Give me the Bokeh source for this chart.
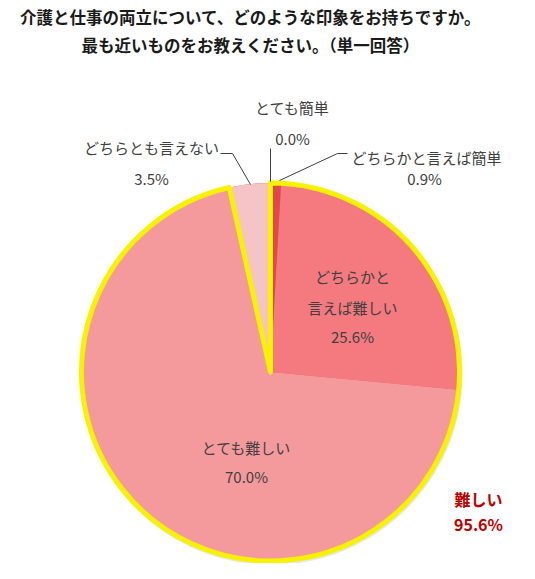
import numpy as np
from bokeh.plotting import figure
from bokeh.models import Range1d, ColumnDataSource
from bokeh.core.properties import value
from bokeh.embed import file_html
from bokeh.resources import INLINE

# survey answers, clockwise from the top
categories = ["とても簡単", "どちらかと言えば簡単", "どちらかと言えば難しい", "とても難しい", "どちらとも言えない"]
shares = [0.0, 0.9, 25.6, 70.0, 3.5]
colors = ["#e2474f", "#e2474f", "#f47a80", "#f49a9c", "#f6c4c7"]
difficult_total = "95.6%"

title_lines = ["介護と仕事の両立について、どのような印象をお持ちですか。",
               "最も近いものをお教えください。（単一回答）"]

FONT = value("Noto Sans CJK JP")
PW, PH = 519, 563


def yy(y):
    # picture rows run downwards, data y upwards
    return -y


p = figure(width=PW, height=PH, output_backend="svg", toolbar_location=None,
           x_range=Range1d(0, PW), y_range=Range1d(-PH, 0),
           min_border=0)
p.axis.visible = False
p.grid.visible = False
p.outline_line_color = None
p.background_fill_color = "white"

cx, cy, r = 270, yy(371.5), 189

# faint shadow under the pie
p.circle(x=cx + 1, y=cy - 2, radius=r + 2, fill_color="#bbbbbb", fill_alpha=0.35,
         line_color=None)

vals = np.array(shares)
cum = np.concatenate([[0], np.cumsum(vals)]) / vals.sum()
start = np.pi / 2 - cum[:-1] * 2 * np.pi
end = np.pi / 2 - cum[1:] * 2 * np.pi

src = ColumnDataSource(dict(cat=categories, share=shares, color=colors,
                            start=start, end=end))
p.wedge(x=cx, y=cy, radius=r, start_angle="start", end_angle="end",
        direction="clock", fill_color="color", line_color=None, source=src)

# yellow frame round the "difficult" side (everything but どちらとも言えない)
frame_end = np.pi / 2 - vals[:4].sum() / vals.sum() * 2 * np.pi
p.wedge(x=cx, y=cy, radius=r, start_angle=np.pi / 2, end_angle=frame_end,
        direction="clock", fill_alpha=0, line_color="#f7f300", line_width=5,
        line_join="round")

# leader lines
p.line([270, 270], [yy(148), yy(181)], line_color="#404040", line_width=1)
p.line([347, 337, 279], [yy(153), yy(153), yy(180)], line_color="#404040", line_width=1)
p.line([220, 232, 250], [yy(153), yy(153), yy(184)], line_color="#404040", line_width=1)

lab = "{:.1f}%"
labels = dict(
    x=[292, 292, 426, 424, 151, 151, 352, 352, 352, 246, 246],
    y=[yy(v) for v in (107, 138, 157, 178, 147, 178, 276, 307, 336, 447, 476)],
    t=[categories[0], lab.format(shares[0]),
       categories[1], lab.format(shares[1]),
       categories[4], lab.format(shares[4]),
       "どちらかと", "言えば難しい", lab.format(shares[2]),
       categories[3], lab.format(shares[3])],
)
p.text(x="x", y="y", text="t", source=ColumnDataSource(labels),
       text_font=FONT, text_font_size="15px", text_color="#404040",
       text_align="center", text_baseline="middle")

p.text(x=[478, 478], y=[yy(498), yy(523)], text=["難しい", difficult_total],
       text_font=FONT, text_font_size="16px", text_font_style="bold",
       text_color="#c00000", text_align="center", text_baseline="middle")

p.text(x=[250, 250], y=[yy(16), yy(44)], text=title_lines,
       text_font=FONT, text_font_size="16.5px", text_font_style="bold",
       text_color="#1a1a1a", text_align="center", text_baseline="middle")

open("out.html", "w").write(file_html(p, INLINE))
